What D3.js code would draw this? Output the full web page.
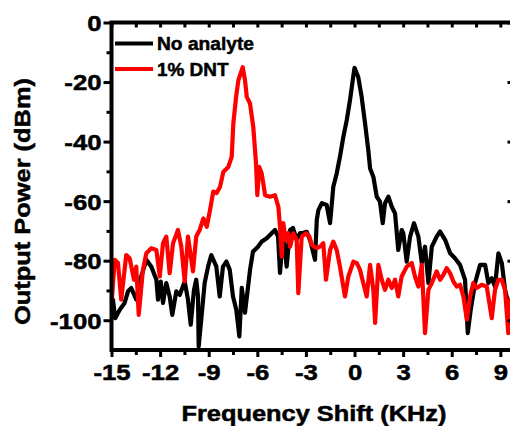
<!DOCTYPE html>
<html>
<head>
<meta charset="utf-8">
<script src="https://cdn.jsdelivr.net/npm/d3@7"></script>
<style>
  body { margin: 0; background: #fff; }
  svg { display: block; }
  text { font-family: "Liberation Sans", Arial, sans-serif; font-weight: bold; fill: #000;
         stroke: #000; stroke-width: 0.5px; }
</style>
</head>
<body>
<svg id="chart" width="510" height="426"></svg>
<script>
// Frequency shift (kHz) and output power (dBm) for each measured spectrum
const freqNoAnalyte = [-14.91,-14.77,-14.49,-14.19,-13.98,-13.78,-13.47,-13.16,-12.85,-12.54,
  -12.23,-12.13,-11.96,-11.82,-11.62,-11.41,-11.25,-11.0,-10.79,-10.48,
  -10.28,-10.11,-9.91,-9.77,-9.66,-9.62,-9.46,-9.25,-9.04,-8.84,
  -8.53,-8.32,-8.12,-7.91,-7.70,-7.50,-7.30,-7.11,-6.96,-6.76,
  -6.45,-6.27,-5.96,-5.73,-5.42,-5.11,-4.91,-4.72,-4.60,-4.40,
  -4.19,-3.98,-3.80,-3.57,-3.36,-3.18,-2.95,-2.75,-2.44,-2.33,
  -2.23,-2.02,-1.72,-1.51,-1.31,-1.10,-0.90,-0.69,-0.48,-0.28,
  -0.07,0.0,0.23,0.44,0.65,0.85,0.96,1.16,1.37,1.57,
  1.74,1.88,2.09,2.30,2.50,2.70,2.91,3.01,3.22,3.43,
  3.67,3.94,4.15,4.35,4.56,4.77,5.07,5.28,5.59,5.90,
  6.20,6.51,6.82,6.99,7.17,7.44,7.75,8.06,8.26,8.47,
  8.67,8.88,9.09,9.29,9.49];
const powerNoAnalyte = [-93.1,-99.3,-96.5,-94.2,-90.3,-89.2,-93.1,-85.3,-79.7,-82.0,
  -86.4,-93.1,-87.0,-94.2,-87.5,-92.0,-98.2,-90.3,-91.5,-87.0,
  -93.1,-101.5,-89.8,-86.4,-92.0,-108.8,-99.8,-87.5,-82.0,-78.1,
  -82.0,-92.0,-82.0,-80.3,-83.1,-92.0,-96.5,-105.4,-89.1,-97.5,
  -83.1,-77.0,-75.3,-73.6,-72.5,-70.8,-69.7,-71.9,-84.1,-70.7,
  -82.0,-69.7,-69.0,-73.0,-70.7,-70.7,-70.3,-73.0,-79.7,-66.3,
  -63.0,-60.7,-61.3,-67.4,-55.2,-50.7,-45.1,-38.4,-32.8,-26.1,
  -17.8,-15.2,-18.3,-25.0,-33.9,-42.9,-49.0,-51.8,-58.5,-60.2,
  -67.4,-60.7,-58.5,-61.9,-64.1,-76.4,-69.7,-70.8,-80.3,-71.9,
  -67.4,-71.9,-80.8,-75.3,-87.5,-75.3,-71.9,-70.2,-73.0,-77.5,
  -79.2,-81.4,-86.4,-104.3,-96.5,-87.5,-81.4,-81.4,-87.5,-85.9,
  -88.7,-77.5,-80.8,-89.8,-94.2];

const freqDNT = [-14.98,-14.80,-14.60,-14.40,-14.09,-13.88,-13.61,-13.47,-13.32,-13.06,
  -12.85,-12.54,-12.23,-12.02,-11.82,-11.62,-11.41,-11.20,-10.90,-10.69,
  -10.48,-10.28,-9.97,-9.77,-9.56,-9.33,-9.12,-8.92,-8.72,-8.51,
  -8.30,-8.10,-7.79,-7.58,-7.48,-7.31,-7.17,-6.90,-6.76,-6.65,
  -6.45,-6.25,-6.08,-6.00,-5.88,-5.73,-5.52,-5.22,-4.91,-4.70,
  -4.60,-4.49,-4.40,-4.25,-4.09,-3.98,-3.78,-3.57,-3.47,-3.26,
  -2.99,-2.79,-2.64,-2.33,-2.13,-1.93,-1.76,-1.51,-1.31,-1.10,
  -0.90,-0.59,-0.38,-0.07,0.14,0.34,0.54,0.75,0.96,1.16,
  1.27,1.47,1.68,1.88,2.09,2.30,2.50,2.70,2.91,3.22,
  3.53,3.73,3.94,4.15,4.35,4.56,4.77,5.07,5.28,5.48,
  5.69,5.90,6.10,6.31,6.51,6.72,6.93,7.13,7.33,7.54,
  7.85,8.16,8.47,8.67,8.88,9.09,9.29,9.49,9.60];
const powerDNT = [-93.1,-79.7,-80.8,-93.1,-78.1,-79.2,-86.4,-82.0,-98.2,-83.1,
  -77.5,-75.8,-76.4,-85.3,-74.1,-71.9,-84.2,-74.1,-69.7,-75.3,
  -87.0,-71.9,-83.6,-71.9,-69.7,-65.8,-68.6,-63.0,-56.8,-57.3,
  -55.2,-50.2,-48.5,-45.1,-33.9,-25.0,-19.4,-15.0,-19.4,-25.0,
  -27.2,-35.1,-47.3,-58.0,-48.5,-50.7,-58.0,-58.5,-58.0,-61.9,
  -68.6,-78.6,-67.4,-73.0,-70.8,-75.3,-70.8,-73.0,-90.9,-71.9,
  -70.8,-71.9,-74.7,-75.8,-75.3,-74.1,-86.4,-76.4,-73.6,-76.4,
  -82.0,-92.0,-85.3,-80.3,-80.8,-83.1,-87.5,-92.0,-81.4,-89.8,
  -100.9,-81.4,-86.4,-89.8,-86.4,-89.2,-86.4,-92.0,-85.3,-82.0,
  -80.8,-85.3,-88.7,-81.4,-104.3,-89.8,-87.5,-83.6,-86.4,-84.8,
  -82.5,-84.2,-87.0,-88.7,-88.1,-92.0,-99.8,-92.0,-87.5,-89.2,
  -88.1,-88.7,-99.3,-89.8,-86.4,-86.4,-89.8,-104.3,-93.1];

const seriesNames = ["No analyte", "1% DNT"];
const seriesColors = ["#000000", "#ff0000"];

const xMajorTicks = [-15, -12, -9, -6, -3, 0, 3, 6, 9];
const xMinorTicks = [-13.5, -10.5, -7.5, -4.5, -1.5, 1.5, 4.5, 7.5];
const yMajorTicks = [-100, -80, -60, -40, -20, 0];
const yMinorTicks = [-90, -70, -50, -30, -10];

const xTitle = "Frequency Shift (KHz)";
const yTitle = "Output Power (dBm)";

// ---- layout ----
const svg = d3.select("#chart");
const plotL = 111.5, plotR = 512.5, plotT = 22.5, plotB = 350;
const x = d3.scaleLinear().domain([-15, 9.75]).range([plotL, plotR]);
const y = d3.scaleLinear().domain([-110, 0]).range([plotB, plotT]);
const fmt = d => String(d);   // plain hyphen-minus labels

// the tick lettering is broad: set an explicit advance width per label
const labelSize = 22;
function labelWidth(s) {
  let w = 0;
  for (const c of s) w += (c === "-" ? 0.333 : 0.556);
  return w * labelSize * 1.17;
}
function widen(sel) {
  sel.attr("textLength", function () { return labelWidth(this.textContent); })
     .attr("lengthAdjust", "spacingAndGlyphs");
}

// ---- curves ----
const line = d3.line().x(d => x(d[0])).y(d => y(d[1]));
const series = [
  d3.zip(freqNoAnalyte, powerNoAnalyte),
  d3.zip(freqDNT, powerDNT)
];
series.forEach((pts, i) => {
  svg.append("path")
    .datum(pts)
    .attr("d", line)
    .attr("fill", "none")
    .attr("stroke", seriesColors[i])
    .attr("stroke-width", 4.2)
    .attr("stroke-linejoin", "round")
    .attr("stroke-linecap", "round");
});

// ---- axes ----
const axisStyle = g => {
  g.select(".domain").remove();
  g.selectAll(".tick line").attr("stroke", "#000").attr("stroke-width", 3);
};

// bottom: outward ticks with labels
const gx = svg.append("g").attr("transform", `translate(0,${plotB})`)
  .call(d3.axisBottom(x).tickValues(xMajorTicks).tickSize(7).tickFormat(fmt))
  .call(axisStyle);
gx.selectAll(".tick text")
  .attr("font-size", labelSize).attr("y", 30).attr("dy", null)
  .attr("fill", "#000")
  .call(widen);
svg.append("g").attr("transform", `translate(0,${plotB})`)
  .call(d3.axisBottom(x).tickValues(xMinorTicks).tickSize(5).tickFormat(""))
  .call(axisStyle);

// top: short inward ticks
svg.append("g").attr("transform", `translate(0,${plotT})`)
  .call(d3.axisTop(x).tickValues(xMajorTicks.concat(xMinorTicks)).tickSize(-5).tickFormat(""))
  .call(axisStyle);

// left: outward ticks with labels
const gy = svg.append("g").attr("transform", `translate(${plotL},0)`)
  .call(d3.axisLeft(y).tickValues(yMajorTicks).tickSize(8).tickFormat(fmt))
  .call(axisStyle);
gy.selectAll(".tick text")
  .attr("font-size", labelSize).attr("x", -10).attr("dy", "0.36em")
  .attr("fill", "#000")
  .call(widen);
svg.append("g").attr("transform", `translate(${plotL},0)`)
  .call(d3.axisLeft(y).tickValues(yMinorTicks).tickSize(5).tickFormat(""))
  .call(axisStyle);

// right: inward ticks
svg.append("g").attr("transform", `translate(${plotR},0)`)
  .call(d3.axisRight(y).tickValues(yMajorTicks).tickSize(-5).tickFormat(""))
  .call(axisStyle);

// frame
svg.append("rect")
  .attr("x", plotL).attr("y", plotT)
  .attr("width", plotR - plotL).attr("height", plotB - plotT)
  .attr("fill", "none").attr("stroke", "#000").attr("stroke-width", 4);

// ---- axis titles ----
svg.append("text")
  .attr("x", 314).attr("y", 421)
  .attr("text-anchor", "middle").attr("font-size", 22)
  .attr("textLength", 265).attr("lengthAdjust", "spacingAndGlyphs")
  .text(xTitle);

svg.append("text")
  .attr("transform", "translate(30,201.5) rotate(-90)")
  .attr("text-anchor", "middle").attr("font-size", 22)
  .attr("textLength", 247).attr("lengthAdjust", "spacingAndGlyphs")
  .text(yTitle);

// ---- legend ----
const legendWidths = [97, 71.5];
const legend = svg.append("g");
seriesNames.forEach((name, i) => {
  const ly = 43.5 + i * 25.5;
  legend.append("line")
    .attr("x1", 115).attr("x2", 153).attr("y1", ly).attr("y2", ly)
    .attr("stroke", seriesColors[i]).attr("stroke-width", 4);
  legend.append("text")
    .attr("x", 157).attr("y", ly + 6.8)
    .attr("font-size", 18.5)
    .attr("textLength", legendWidths[i]).attr("lengthAdjust", "spacingAndGlyphs")
    .text(name);
});
</script>
</body>
</html>
